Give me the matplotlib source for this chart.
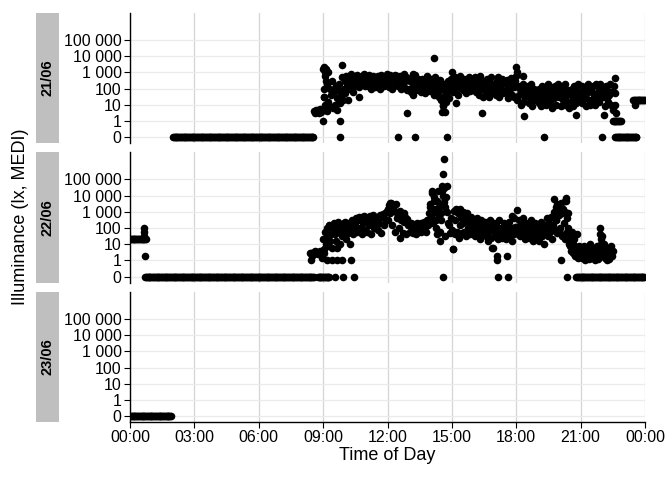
import numpy as np
import matplotlib.pyplot as plt
from matplotlib.ticker import NullLocator

plt.rcParams['font.family'] = ['Liberation Sans', 'DejaVu Sans']

days = ['21/06', '22/06', '23/06']
log_step = 2.5 / 60  # logger interval in hours

y_ticks = [0, 1, 10, 100, 1000, 10000, 100000]
y_labels = ['0', '1', '10', '100', '1 000', '10 000', '100 000']
x_ticks = [0, 3, 6, 9, 12, 15, 18, 21, 24]
x_labels = ['00:00', '03:00', '06:00', '09:00', '12:00', '15:00', '18:00', '21:00', '00:00']

# ---- 21/06 ----
# constant stretches: (from h, to h, lux)
runs_2106 = [(2.0, 8.55, 0), (22.6, 23.6, 0), (23.45, 24.0, 20), (22.5, 22.9, 1)]
lux_2106_start = 8 + 35 / 60
lux_2106 = [4, 3, 4.5, 3.5, 5, 3, 4, 5.5, 3.5, 4.5,
            # 09:00
            1500, 30, 600, 5, 200, 15, 1000, 8, 100, 40, 300, 6,
            60, 10, 150, 25, 5, 80, 200, 12, 40, 500, 20, 100,
            # 10:00
            300, 50, 600, 150, 20, 400, 100, 800, 250, 60, 500, 150,
            400, 200, 700, 300, 120, 500, 250, 600, 180, 350, 800, 150,
            # 11:00
            250, 500, 150, 700, 300, 100, 450, 200, 600, 350, 120, 500,
            300, 600, 200, 450, 100, 700, 250, 400, 150, 550, 300, 800,
            # 12:00
            200, 500, 120, 650, 300, 90, 450, 250, 700, 180, 400, 600,
            150, 350, 600, 100, 450, 250, 800, 120, 300, 500, 80, 400,
            # 13:00
            100, 300, 60, 500, 150, 40, 250, 700, 80, 200, 400, 120,
            250, 60, 150, 400, 90, 300, 50, 200, 600, 100, 350, 70,
            # 14:00
            150, 400, 80, 250, 40, 500, 120, 300, 60, 200, 30, 350,
            20, 100, 8, 200, 40, 15, 150, 60, 300, 25, 100, 400,
            # 15:00
            150, 60, 300, 100, 500, 80, 250, 40, 200, 600, 120, 350,
            200, 80, 400, 150, 50, 300, 120, 500, 70, 250, 150, 400,
            # 16:00
            250, 100, 500, 60, 200, 350, 40, 150, 600, 90, 300, 30,
            100, 250, 50, 400, 150, 30, 300, 80, 500, 120, 60, 200,
            # 17:00
            150, 40, 300, 80, 500, 30, 200, 100, 400, 50, 250, 70,
            200, 60, 350, 25, 150, 90, 450, 40, 250, 120, 30, 300,
            # 18:00
            600, 20, 150, 40, 100, 10, 60, 200, 15, 80, 30, 120,
            40, 150, 12, 70, 25, 200, 8, 50, 100, 20, 60, 30,
            # 19:00
            25, 100, 12, 60, 8, 150, 40, 20, 90, 10, 50, 200,
            30, 80, 15, 120, 6, 50, 25, 150, 10, 70, 40, 200,
            # 20:00
            30, 70, 8, 120, 20, 50, 10, 200, 35, 15, 80, 6,
            50, 15, 100, 25, 8, 150, 40, 12, 70, 200, 20, 60,
            # 21:00
            40, 150, 12, 60, 25, 100, 8, 50, 200, 20, 70, 10,
            80, 20, 150, 40, 10, 200, 30, 60, 15, 120, 25, 50,
            # 22:00
            120, 30, 60, 8, 150, 25, 80, 15, 40, 200, 10, 60,
            5]
extra_2106 = [(9.0, 1), (9.05, 2000), (9.1, 1000), (9.15, 1500), (9.12, 300),
              (9.05, 100), (9.1, 10), (9.2, 4), (9.02, 30), (9.79, 1), (9.79, 0),
              (9.86, 2700), (10.67, 32), (12.5, 0), (13.3, 0), (14.75, 0),
              (12.9, 3), (13.17, 800), (14.18, 7700), (15.0, 1000), (14.55, 3.5),
              (14.7, 3.5), (14.6, 10), (15.2, 12), (16.4, 3.2), (18.0, 2000),
              (18.03, 1000), (18.3, 630), (18.35, 2), (19.3, 0), (20.8, 2.2),
              (22.1, 2.2), (22.0, 0), (21.9, 200), (22.6, 460), (22.55, 150),
              (22.62, 50), (22.58, 10), (22.65, 3), (23.55, 9)]

# ---- 22/06 ----
runs_2206 = [(0.0, 0.75, 20), (0.7, 8.6, 0), (8.75, 9.3, 0), (8.4, 9.05, 3), (20.8, 24.0, 0)]
lux_2206_start = 8 + 40 / 60
lux_2206 = [3, 3.5, 2.5, 3, 4, 3, 2.5, 3.5,
            # 09:00
            20, 5, 60, 10, 100, 30, 8, 150, 15, 40, 6, 80,
            200, 40, 15, 120, 6, 250, 60, 10, 150, 30, 80, 200,
            # 10:00
            80, 250, 20, 150, 50, 200, 10, 100, 300, 40, 180, 70,
            150, 400, 60, 300, 500, 100, 350, 40, 450, 200, 550, 80,
            # 11:00
            300, 60, 450, 150, 550, 40, 400, 250, 600, 100, 500, 200,
            350, 80, 500, 200, 600, 50, 450, 700, 150, 900, 300, 1200,
            # 12:00
            1500, 300, 2500, 800, 3600, 150, 1500, 2500, 60, 1000, 3000, 400,
            1000, 100, 1200, 300, 600, 50, 800, 250, 500, 40, 350, 150,
            # 13:00
            150, 60, 200, 100, 50, 180, 80, 120, 40, 200, 90, 150,
            100, 200, 60, 150, 80, 250, 120, 60, 300, 150, 800, 2000,
            # 14:00
            3000, 500, 15000, 200, 8000, 1000, 100, 5000, 20000, 400, 2000, 60,
            300, 20000, 3000, 30000, 2000, 8000, 40000, 1000, 200, 150, 50, 400,
            # 15:00
            80, 5, 1200, 40, 300, 1400, 60, 900, 25, 150, 400, 50,
            200, 1000, 60, 400, 30, 800, 100, 250, 40, 500, 150, 70,
            # 16:00
            100, 200, 30, 120, 400, 60, 150, 80, 20, 300, 50, 100,
            60, 250, 30, 100, 15, 150, 70, 300, 25, 80, 6, 200,
            # 17:00
            40, 150, 30, 80, 20, 300, 50, 100, 25, 60, 200, 40,
            80, 20, 150, 50, 250, 30, 100, 15, 60, 400, 40, 120,
            # 18:00
            120, 1300, 60, 300, 30, 150, 80, 400, 40, 100, 20, 200,
            50, 150, 25, 80, 300, 40, 120, 15, 60, 200, 30, 100,
            # 19:00
            60, 15, 120, 40, 250, 30, 80, 10, 150, 50, 400, 100,
            30, 200, 60, 500, 20, 150, 1000, 80, 300, 2000, 50, 600,
            # 20:00
            600, 100, 3600, 30, 1500, 200, 5000, 20, 7400, 60, 800, 10,
            25, 4, 60, 3, 10, 20, 2, 6, 40, 1.5, 8, 3,
            # 21:00
            2, 5, 1.5, 3, 8, 1, 4, 2, 6, 1.2, 3, 10,
            1.5, 4, 2, 6, 1, 3, 8, 1.2, 5, 2.5, 100, 20,
            # 22:00
            5, 2, 10, 1.5, 3, 1, 4, 6, 1.2, 3, 8, 2,
            4]
extra_2206 = [(0.67, 100), (0.67, 60), (0.65, 30), (0.7, 2),
              (8.45, 1), (8.5, 1.8), (8.6, 4), (8.95, 1.5),
              (9.17, 1), (9.4, 1), (9.63, 1), (9.86, 1), (10.28, 1),
              (9.55, 0), (9.93, 0), (10.44, 0),
              (12.58, 25), (12.1, 3600), (12.25, 2000),
              (14.08, 20000), (14.15, 5000), (14.2, 1500), (14.25, 300), (14.3, 40),
              (14.45, 16), (14.5, 800), (14.55, 40000), (14.6, 10000), (14.62, 4000),
              (14.7, 30), (14.57, 230000), (14.65, 1900000), (14.57, 0),
              (15.05, 5), (15.4, 1400), (15.6, 800),
              (16.85, 6), (17.1, 2), (17.1, 1), (17.55, 2), (17.15, 0), (17.6, 0), (17.8, 550),
              (19.75, 5900), (19.8, 1000), (19.85, 300), (19.9, 3000), (20.0, 1500),
              (20.05, 50), (20.15, 800), (20.25, 1000), (20.3, 5000), (20.35, 400),
              (20.4, 100), (20.1, 1), (20.35, 0), (20.45, 15), (20.5, 8), (20.55, 25),
              (20.65, 10), (21.9, 40), (21.95, 10), (22.0, 30)]

# ---- 23/06 ----
runs_2306 = [(0.0, 1.95, 0)]
lux_2306_start = 0.0
lux_2306 = []
extra_2306 = []


def day_points(runs, start, lux, extra):
    t, v = [], []
    for a, b, val in runs:
        ts = np.arange(a, b + 1e-6, log_step)
        t.extend(ts)
        v.extend([val] * len(ts))
    t.extend(start + np.arange(len(lux)) * log_step)
    v.extend(lux)
    for h, val in extra:
        t.append(h)
        v.append(val)
    return np.array(t), np.array(v)


data = [day_points(runs_2106, lux_2106_start, lux_2106, extra_2106),
        day_points(runs_2206, lux_2206_start, lux_2206, extra_2206),
        day_points(runs_2306, lux_2306_start, lux_2306, extra_2306)]

fig = plt.figure(figsize=(6.72, 4.8), dpi=100)
left, width = 130 / 672, 515 / 672
tops = [13, 152.5, 292]
ph = 130

for i, (day, (t, v)) in enumerate(zip(days, data)):
    bottom = 1 - (tops[i] + ph) / 480
    ax = fig.add_axes([left, bottom, width, ph / 480])
    ax.set_yscale('symlog', base=10, linthresh=1, linscale=0.9)
    ax.scatter(t, v, s=30, color='black', linewidths=0, zorder=3)
    ax.set_xlim(0, 24)
    ax.set_ylim(-0.365, 10 ** 6.665)
    ax.set_yticks(y_ticks)
    ax.set_yticklabels(y_labels)
    ax.yaxis.set_minor_locator(NullLocator())
    ax.set_xticks(x_ticks)
    ax.grid(axis='y', color='#ebebeb', lw=0.9, zorder=0)
    ax.grid(axis='x', color='#d4d4d4', lw=0.9, zorder=0)
    ax.set_axisbelow(True)
    for s in ['top', 'right']:
        ax.spines[s].set_visible(False)
    ax.spines['left'].set_linewidth(1.0)
    ax.tick_params(axis='y', labelsize=11.5, length=4, width=0.8, colors='black', pad=2)
    if i < 2:
        ax.spines['bottom'].set_visible(False)
        ax.tick_params(axis='x', length=0, labelbottom=False)
    else:
        ax.spines['bottom'].set_linewidth(1.0)
        ax.set_xticklabels(x_labels)
        ax.tick_params(axis='x', labelsize=11.5, length=4, width=0.8, colors='black', pad=2)
        ax.set_xlabel('Time of Day', fontsize=13, labelpad=1)

    sax = fig.add_axes([36 / 672, bottom, 23 / 672, ph / 480])
    sax.set_facecolor('#bfbfbf')
    sax.set_xticks([])
    sax.set_yticks([])
    for s in sax.spines.values():
        s.set_visible(False)
    sax.text(0.5, 0.5, day, rotation=90, ha='center', va='center',
             fontsize=10.5, fontweight='bold', transform=sax.transAxes)

fig.text(21 / 672, 1 - 217 / 480, 'Illuminance (lx, MEDI)', rotation=90,
         ha='center', va='center', fontsize=13)

fig.savefig('out.png', dpi=100)
